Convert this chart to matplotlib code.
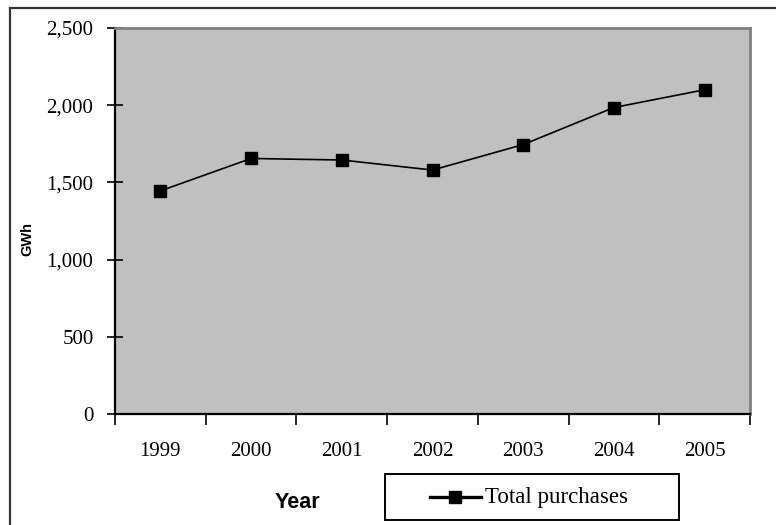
import matplotlib.pyplot as plt
from matplotlib.patches import Rectangle
from matplotlib.lines import Line2D

years = ["1999", "2000", "2001", "2002", "2003", "2004", "2005"]
purchases = [1445, 1655, 1645, 1580, 1745, 1985, 2100]
yticks = [0, 500, 1000, 1500, 2000, 2500]
ytick_labels = ["0", "500", "1,000", "1,500", "2,000", "2,500"]
series_label = "Total purchases"

W, H = 776, 525
fig = plt.figure(figsize=(W / 100, H / 100), dpi=100)

def fx(px):
    return px / W

def fy(py):
    return 1 - py / H

# outer frame around the whole chart
fig.patches.append(Rectangle((fx(10), -0.1), 1.2, fy(8) + 0.1,
                             transform=fig.transFigure, fill=False,
                             edgecolor="#333333", linewidth=1.6))

ax = fig.add_axes([fx(115), fy(414), fx(750) - fx(115), fy(28) - fy(414)])
ax.set_facecolor("#c0c0c0")

x = list(range(len(years)))
ax.plot(x, purchases, color="black", linewidth=1.2, marker="s",
        markersize=8, markerfacecolor="black")

ax.set_xlim(-0.5, len(years) - 0.5)
ax.set_ylim(0, 2500)

serif = "Liberation Serif"
ax.set_yticks(yticks)
ax.set_yticklabels(ytick_labels, fontfamily=serif, fontsize=15)
ax.set_xticks([i - 0.5 for i in range(len(years) + 1)])
ax.set_xticklabels([])
ax.set_xticks(x, minor=True)
ax.set_xticklabels(years, minor=True, fontfamily=serif, fontsize=15)
ax.tick_params(axis="x", which="minor", length=0, pad=20)
ax.tick_params(axis="x", which="major", length=8, width=1.2, direction="out")
ax.tick_params(axis="y", length=11, width=1.2, direction="inout", pad=10)

for side in ("left", "bottom"):
    ax.spines[side].set_color("black")
    ax.spines[side].set_linewidth(1.6)
for side in ("top", "right"):
    ax.spines[side].set_color("#808080")
    ax.spines[side].set_linewidth(2)

fig.text(fx(27), fy(239), "GWh", rotation=90, ha="center", va="center",
         fontsize=10.5, fontweight="bold", fontfamily="Liberation Sans")
fig.text(fx(297), fy(503), "Year", ha="center", va="center",
         fontsize=15.5, fontweight="bold", fontfamily="Liberation Sans")

# legend box drawn by hand for its wide padding
fig.patches.append(Rectangle((fx(385), fy(520)), fx(679) - fx(385),
                             fy(474) - fy(520), transform=fig.transFigure,
                             facecolor="white", edgecolor="black",
                             linewidth=1.4))
fig.lines.append(Line2D([fx(430), fx(481)], [fy(497), fy(497)],
                        transform=fig.transFigure, color="black",
                        linewidth=2.4))
fig.lines.append(Line2D([fx(455)], [fy(497)], transform=fig.transFigure,
                        color="black", marker="s", markersize=8))
fig.text(fx(485), fy(497), series_label, ha="left", va="center",
         fontsize=16.5, fontfamily=serif)

fig.savefig("out.png", dpi=100)
